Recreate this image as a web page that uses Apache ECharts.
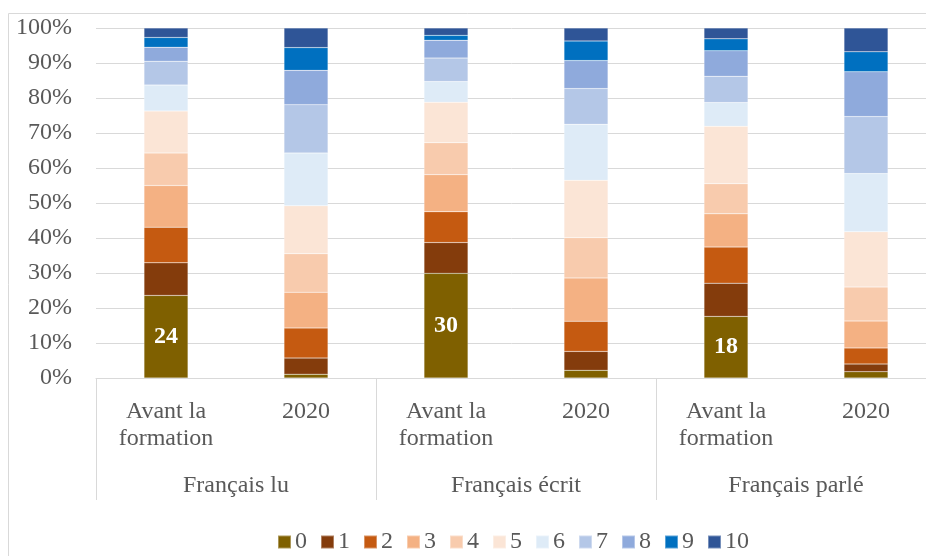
<!DOCTYPE html>
<html>
<head>
<meta charset="utf-8">
<script src="https://cdn.jsdelivr.net/npm/echarts@6/dist/echarts.min.js"></script>
<style>
html,body{margin:0;padding:0;background:#fff;}
#c{width:926px;height:556px;}
</style>
</head>
<body>
<div id="c"></div>
<script>
const categories = ['Avant la\nformation', '2020', 'Avant la\nformation', '2020', 'Avant la\nformation', '2020'];
const groups = ['Français lu', 'Français écrit', 'Français parlé'];
const seriesNames = ['0','1','2','3','4','5','6','7','8','9','10'];
const colors = ['#7F6000','#843C0C','#C55A11','#F4B183','#F8CBAD','#FBE5D6','#DEEBF7','#B4C7E7','#8FAADC','#0070C0','#2F5597'];
const yTicks = [0,10,20,30,40,50,60,70,80,90,100];

const s0  = [23.6, 1.1, 29.9, 2.2, 17.6, 1.8];
const s1  = [9.3, 4.6, 8.8, 5.4, 9.5, 2.2];
const s2  = [10.2, 8.6, 8.8, 8.6, 10.3, 4.6];
const s3  = [11.9, 10.2, 10.6, 12.4, 9.5, 7.7];
const s4  = [9.3, 11.0, 9.1, 11.5, 8.6, 9.7];
const s5  = [12.0, 13.7, 11.6, 16.4, 16.4, 15.8];
const s6  = [7.4, 15.1, 5.9, 16.0, 6.8, 16.6];
const s7  = [6.8, 13.8, 6.7, 10.2, 7.5, 16.3];
const s8  = [4.0, 9.8, 5.1, 8.0, 7.3, 12.8];
const s9  = [2.8, 6.5, 1.4, 5.6, 3.4, 5.7];
const s10 = [2.7, 5.6, 2.1, 3.7, 3.1, 6.8];
const labelled = [0, 2, 4];

const raw = [s0,s1,s2,s3,s4,s5,s6,s7,s8,s9,s10];
const totals = categories.map((_, i) => raw.reduce((a, s) => a + s[i], 0));
const pct = raw.map(s => s.map((v, i) => v / totals[i] * 100));

const font = 'Liberation Serif, Times New Roman, serif';
const grey = '#595959';
const lineGrey = '#D9D9D9';
const fs = 24;

const series = pct.map((arr, k) => ({
  name: seriesNames[k],
  type: 'bar',
  stack: 'total',
  barWidth: 44,
  itemStyle: { color: colors[k], borderColor: 'rgba(255,255,255,0.35)', borderWidth: 0.5 },
  data: arr.map((v, i) => {
    if (k === 0 && labelled.includes(i)) {
      return { value: v, label: { show: true, position: 'inside', color: '#fff', fontWeight: 'bold', fontFamily: font, fontSize: 24, formatter: p => Math.round(p.value) } };
    }
    return v;
  })
}));

const chart = echarts.init(document.getElementById('c'));
chart.setOption({
  animation: false,
  color: colors,
  graphic: [
    { type: 'line', shape: { x1: 8.5, y1: 13.5, x2: 8.5, y2: 556 }, style: { stroke: lineGrey, lineWidth: 1 } },
    { type: 'line', shape: { x1: 8.5, y1: 13.5, x2: 926, y2: 13.5 }, style: { stroke: lineGrey, lineWidth: 1 } }
  ],
  grid: { left: 96, right: -10, top: 28, bottom: 178, outerBoundsMode: 'none', containLabel: false },
  legend: {
    top: 530, left: 277, padding: 0,
    itemWidth: 13, itemHeight: 13, itemGap: 13,
    icon: 'rect',
    textStyle: { fontFamily: font, fontSize: fs, color: grey, padding: [0,0,0,-1] },
    data: seriesNames
  },
  xAxis: [
    {
      type: 'category', data: categories, position: 'bottom',
      axisLine: { lineStyle: { color: lineGrey } },
      axisTick: { show: false },
      axisLabel: { interval: 0, margin: 20, fontFamily: font, fontSize: fs, color: grey, lineHeight: 27 }
    },
    {
      type: 'category', data: groups, position: 'bottom',
      axisLine: { show: false },
      axisTick: { show: true, length: 122, interval: 0, lineStyle: { color: lineGrey } },
      axisLabel: { interval: 0, margin: 96, fontFamily: font, fontSize: fs, color: grey }
    }
  ],
  yAxis: {
    type: 'value', min: yTicks[0], max: yTicks[yTicks.length - 1], interval: 10,
    axisLine: { show: false }, axisTick: { show: false },
    splitLine: { lineStyle: { color: lineGrey } },
    axisLabel: { margin: 24, fontFamily: font, fontSize: fs, color: grey, formatter: '{value}%' }
  },
  series: series
});
</script>
</body>
</html>
